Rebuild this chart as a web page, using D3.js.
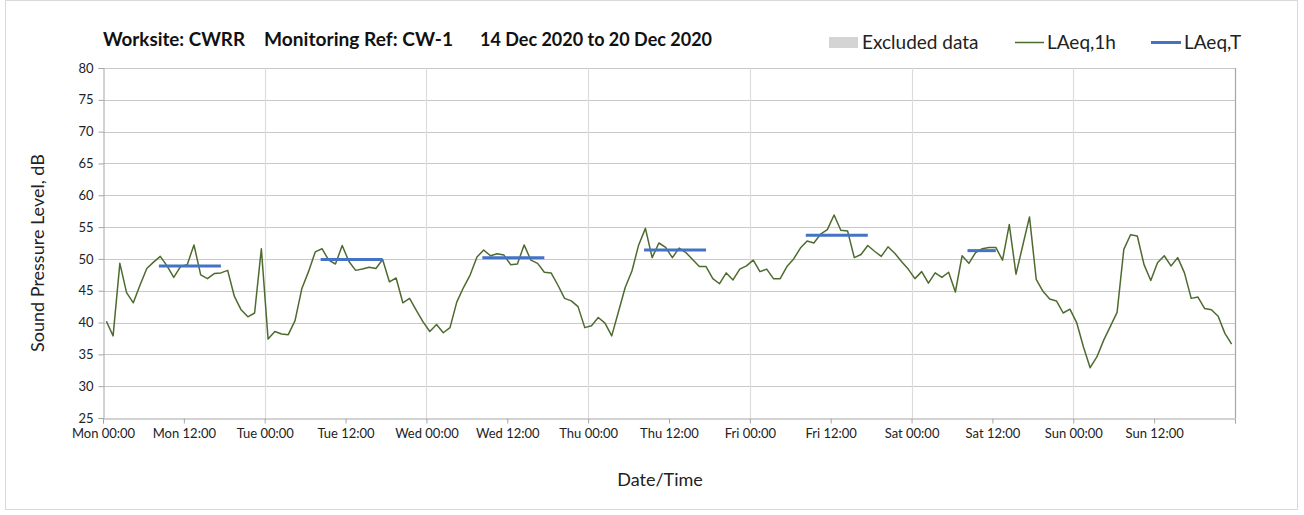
<!DOCTYPE html>
<html>
<head>
<meta charset="utf-8">
<script src="https://cdn.jsdelivr.net/npm/d3@7"></script>
<style>
  html, body { margin: 0; padding: 0; background: #fff; }
  svg { display: block; font-family: Lato, "Open Sans", sans-serif; }
</style>
</head>
<body>
<svg id="chart" width="1304" height="515"></svg>
<script>
// ---- data ----
const dayNames = ["Mon", "Tue", "Wed", "Thu", "Fri", "Sat", "Sun"];
const xTickLabels = ["Mon 00:00","Mon 12:00","Tue 00:00","Tue 12:00","Wed 00:00","Wed 12:00",
  "Thu 00:00","Thu 12:00","Fri 00:00","Fri 12:00","Sat 00:00","Sat 12:00","Sun 00:00","Sun 12:00"];
const yTicks = [25, 30, 35, 40, 45, 50, 55, 60, 65, 70, 75, 80];

// LAeq,1h hourly values (dB), one array per day, hours 00..23
const monLAeq1h = [40.2,37.9,49.3,44.7,43.1,45.9,48.5,49.5,50.4,48.9,47.1,48.8,49.1,52.2,47.5,46.9,47.7,47.8,48.2,44.1,42.0,40.9,41.5,51.6];
const tueLAeq1h = [37.4,38.6,38.2,38.1,40.3,45.3,48.0,51.1,51.6,49.8,49.2,52.1,49.6,48.2,48.4,48.7,48.5,49.9,46.4,47.0,43.1,43.8,41.9,40.1];
const wedLAeq1h = [38.6,39.7,38.4,39.2,43.2,45.5,47.5,50.3,51.4,50.5,50.8,50.6,49.1,49.2,52.2,49.8,49.3,47.9,47.8,45.9,43.8,43.4,42.5,39.2];
const thuLAeq1h = [39.5,40.8,39.9,37.9,41.7,45.5,48.1,52.2,54.8,50.2,52.5,51.8,50.2,51.7,51.0,49.9,48.8,48.8,46.9,46.1,47.8,46.7,48.4,48.9];
const friLAeq1h = [49.8,48.0,48.4,46.9,46.9,48.8,50.0,51.7,52.8,52.5,53.9,54.6,56.9,54.5,54.4,50.2,50.7,52.1,51.2,50.4,51.9,50.9,49.6,48.4];
const satLAeq1h = [46.9,48.0,46.2,47.8,47.1,47.9,44.8,50.5,49.3,51.0,51.6,51.8,51.8,49.8,55.4,47.6,52.1,56.6,46.8,44.9,43.7,43.4,41.5,42.1];
const sunLAeq1h = [40.0,36.2,32.9,34.6,37.2,39.4,41.6,51.5,53.8,53.6,49.1,46.6,49.4,50.5,48.9,50.2,47.8,43.8,44.0,42.2,42.0,41.0,38.3,36.6];

// LAeq,T daytime values (dB) per day with period start/end hour of the day
const laeqTDays   = [0, 1, 2, 3, 4, 5];
const laeqTValues = [48.9, 49.9, 50.2, 51.4, 53.7, 51.3];
const laeqTStart  = [8.3, 8.3, 8.3, 8.3, 8.3, 8.3];
const laeqTEnd    = [17.5, 17.5, 17.5, 17.5, 17.5, 12.5];

// ---- build ----
const hourly = [monLAeq1h, tueLAeq1h, wedLAeq1h, thuLAeq1h, friLAeq1h, satLAeq1h, sunLAeq1h]
  .flatMap((arr, d) => arr.map((v, h) => ({ t: d * 24 + h + 0.5, v })));

const svg = d3.select("#chart");
const L = 103, R = 1235, T = 68, B = 418;
const x = d3.scaleLinear().domain([0, 168]).range([L, R]);
const y = d3.scaleLinear().domain([25, 80]).range([B, T]);

// outer frame
svg.append("rect").attr("x", 5.5).attr("y", 0.5).attr("width", 1292).attr("height", 509)
  .attr("fill", "none").attr("stroke", "#d9d9d9");

// gridlines
svg.append("g").selectAll("line").data(yTicks.slice(1)).join("line")
  .attr("x1", L).attr("x2", R).attr("y1", d => Math.round(y(d)) + 0.5).attr("y2", d => Math.round(y(d)) + 0.5)
  .attr("stroke", "#c8c8c8").attr("stroke-width", 1);
svg.append("g").selectAll("line").data(d3.range(24, 169, 24)).join("line")
  .attr("x1", d => Math.round(x(d)) + 0.5).attr("x2", d => Math.round(x(d)) + 0.5)
  .attr("y1", T).attr("y2", B)
  .attr("stroke", d => d === 168 ? "#a6a6a6" : "#dcdcdc").attr("stroke-width", 1.2);

// axes
const yAxis = d3.axisLeft(y).tickValues(yTicks).tickSize(5).tickPadding(5).tickFormat(d3.format("d"));
const gy = svg.append("g").attr("transform", `translate(${L + 0.5},0)`).call(yAxis);
gy.select(".domain").attr("stroke", "#a6a6a6");
gy.selectAll(".tick line").attr("stroke", "#a6a6a6");
gy.selectAll("text").attr("font-size", 13).attr("fill", "#222").attr("font-family", "Lato, sans-serif");

const xAxis = d3.axisBottom(x).tickValues(d3.range(0, 169, 12)).tickSize(5).tickPadding(5)
  .tickFormat((d, i) => xTickLabels[i] || "");
const gx = svg.append("g").attr("transform", `translate(0,${B + 0.5})`).call(xAxis);
gx.select(".domain").attr("stroke", "#a6a6a6");
gx.selectAll(".tick line").attr("stroke", "#a6a6a6");
gx.selectAll("text").attr("font-size", 13).attr("fill", "#222").attr("font-family", "Lato, sans-serif");

// LAeq,1h line
svg.append("path").datum(hourly)
  .attr("fill", "none").attr("stroke", "#4e6b2f").attr("stroke-width", 1.5)
  .attr("stroke-linejoin", "round")
  .attr("d", d3.line().x(d => x(d.t)).y(d => y(d.v)));

// LAeq,T segments
svg.append("g").selectAll("line").data(laeqTDays).join("line")
  .attr("x1", (d, i) => x(d * 24 + laeqTStart[i]))
  .attr("x2", (d, i) => x(d * 24 + laeqTEnd[i]))
  .attr("y1", (d, i) => y(laeqTValues[i]))
  .attr("y2", (d, i) => y(laeqTValues[i]))
  .attr("stroke", "#4472c4").attr("stroke-width", 3);

// axis titles
svg.append("text").attr("x", 660).attr("y", 486).attr("text-anchor", "middle")
  .attr("font-size", 18).attr("fill", "#222").text("Date/Time");
svg.append("text").attr("transform", "translate(44,253) rotate(-90)").attr("text-anchor", "middle")
  .attr("font-size", 18).attr("fill", "#222").text("Sound Pressure Level, dB");

// title
const title = svg.append("g").attr("font-size", 18).attr("font-weight", "bold").attr("fill", "#111");
title.append("text").attr("x", 103).attr("y", 46).attr("textLength", 142).attr("lengthAdjust", "spacingAndGlyphs").text("Worksite: CWRR");
title.append("text").attr("x", 264).attr("y", 46).attr("textLength", 189).attr("lengthAdjust", "spacingAndGlyphs").text("Monitoring Ref: CW-1");
title.append("text").attr("x", 480).attr("y", 46).attr("textLength", 232).attr("lengthAdjust", "spacingAndGlyphs").text("14 Dec 2020 to 20 Dec 2020");

// legend
const lg = svg.append("g").attr("font-size", 19).attr("fill", "#222");
lg.append("rect").attr("x", 829).attr("y", 37).attr("width", 29).attr("height", 11).attr("fill", "#d4d4d4");
lg.append("text").attr("x", 862).attr("y", 49).text("Excluded data");
lg.append("line").attr("x1", 1015).attr("x2", 1044).attr("y1", 42.5).attr("y2", 42.5)
  .attr("stroke", "#4e6b2f").attr("stroke-width", 1.5);
lg.append("text").attr("x", 1047).attr("y", 49).text("LAeq,1h");
lg.append("line").attr("x1", 1151).attr("x2", 1181).attr("y1", 42.5).attr("y2", 42.5)
  .attr("stroke", "#4472c4").attr("stroke-width", 3);
lg.append("text").attr("x", 1184).attr("y", 49).text("LAeq,T");
</script>
</body>
</html>
